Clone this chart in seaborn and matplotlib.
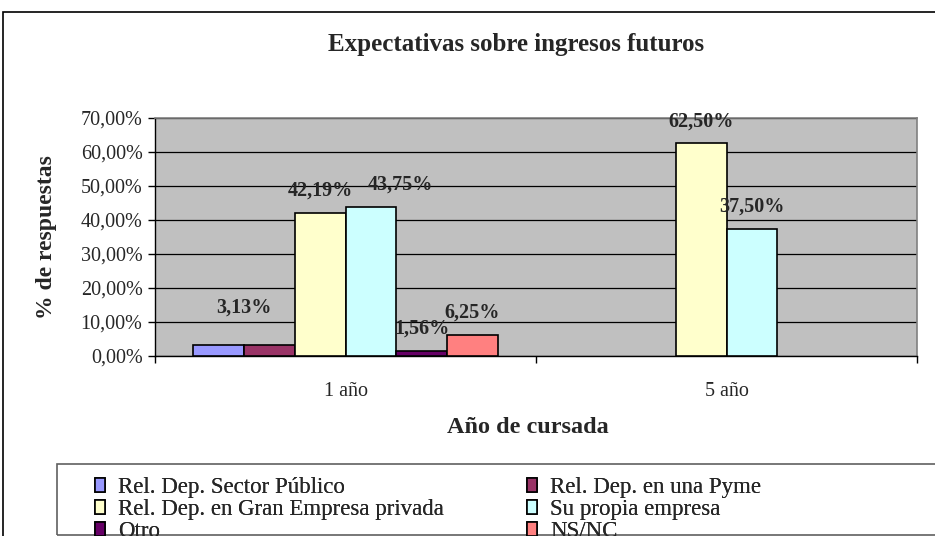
import matplotlib
matplotlib.use("Agg")
import matplotlib.pyplot as plt
import matplotlib.patches as mpatches
import numpy as np
import pandas as pd
import seaborn as sns

# data
years = ["1 año", "5 año"]
series = ["Rel. Dep. Sector Público", "Rel. Dep. en una Pyme",
          "Rel. Dep. en Gran Empresa privada", "Su propia empresa",
          "Otro", "NS/NC"]
vals_1 = [3.13, 3.13, 42.19, 43.75, 1.56, 6.25]
vals_5 = [None, None, 62.50, 37.50, None, None]
colors = ["#9999FF", "#993366", "#FFFFCC", "#CCFFFF", "#660066", "#FF8080"]

rows = []
for yr, vals in zip(years, [vals_1, vals_5]):
    for s, v in zip(series, vals):
        if v is not None:
            rows.append({"year": yr, "serie": s, "pct": v})
df = pd.DataFrame(rows)

sns.set_style("white")
plt.rcParams["font.family"] = ["Liberation Serif", "DejaVu Serif"]

fig = plt.figure(figsize=(9.35, 5.36), dpi=100)
ax = fig.add_axes([155/935, 1-356/536, (917-155)/935, (356-118)/536])

sns.barplot(data=df, x="year", y="pct", hue="serie", order=years,
            hue_order=series, palette=colors, saturation=1, width=0.8,
            edgecolor="black", linewidth=1.2, errorbar=None, legend=False,
            ax=ax, zorder=3)

ax.set_facecolor("#C0C0C0")
ax.set_ylim(0, 70)
ax.set_xlim(-0.5, 1.5)
ticks = np.arange(0, 71, 10)
ax.set_yticks(ticks)
ax.set_yticklabels([f"{v:.2f}".replace(".", ",") + "%" for v in ticks], fontsize=14.5)
ax.yaxis.grid(True, color="black", linewidth=0.9, zorder=1)
ax.set_axisbelow(True)
ax.tick_params(axis="y", direction="out", length=5, width=1, color="black", left=True, pad=4)
ax.tick_params(axis="x", which="major", length=0, labelsize=14.5, pad=19)
ax.set_xticks([-0.5, 0.5, 1.5], minor=True)
ax.tick_params(axis="x", which="minor", direction="out", length=5, width=1, color="black", bottom=True)
for side in ["top", "right"]:
    ax.spines[side].set_color("#808080")
    ax.spines[side].set_linewidth(1.2)
for side in ["left", "bottom"]:
    ax.spines[side].set_color("black")
    ax.spines[side].set_linewidth(1)
ax.set_xlabel("Año de cursada", fontsize=17.5, fontweight="bold", va="center")
ax.set_ylabel("% de respuestas", fontsize=17, fontweight="bold", va="center")
ax.xaxis.set_label_coords((528-155)/762, (356-427)/238)
ax.yaxis.set_label_coords((47-155)/762, 0.5)

# value labels (a few were moved by hand in the original)
label_shift = {(0, 0): (18, 27), (1, 0): None, (3, 0): (21, 16)}
for si, cont in enumerate(ax.containers):
    present = [yr for yr in years
               if not df[(df.year == yr) & (df.serie == series[si])].empty]
    for bar, yr in zip(cont, present):
        key = (si, years.index(yr))
        if key in label_shift and label_shift[key] is None:
            continue
        dx, dy = label_shift.get(key, (0, 16))
        h = bar.get_height()
        ax.annotate(f"{h:.2f}".replace(".", ",") + "%",
                    (bar.get_x() + bar.get_width()/2, h),
                    xytext=(dx, dy), textcoords="offset points",
                    ha="center", va="center", fontsize=14.5, fontweight="bold",
                    zorder=5, annotation_clip=False)

fig.text(516/935, 1-44/536, "Expectativas sobre ingresos futuros",
         ha="center", va="center", fontsize=18, fontweight="bold")

# outer chart frame
fig.patches.append(mpatches.Rectangle((3/935, -0.1), 1.1, 1-12/536+0.1,
                                      transform=fig.transFigure, fill=False,
                                      edgecolor="black", linewidth=1.2))
# legend frame (cut off at the right edge like in the original)
fig.patches.append(mpatches.Rectangle((57/935, 1-535/536), 1.1, (535-464)/536,
                                      transform=fig.transFigure, fill=False,
                                      edgecolor="#606060", linewidth=1.2))

handles = [mpatches.Patch(facecolor=c, edgecolor="black", linewidth=1.2) for c in colors]
for col, x0 in [([0, 2, 4], 95), ([1, 3, 5], 527)]:
    leg = fig.legend([handles[i] for i in col], [series[i] for i in col],
                     loc="upper left", bbox_to_anchor=(x0/935, 1-477/536),
                     ncol=1, fontsize=16.5, frameon=False,
                     handlelength=0.45, handleheight=0.6, handletextpad=0.55,
                     labelspacing=0.05, borderpad=0, borderaxespad=0)
    fig.add_artist(leg)

fig.savefig("out.png", dpi=100)
